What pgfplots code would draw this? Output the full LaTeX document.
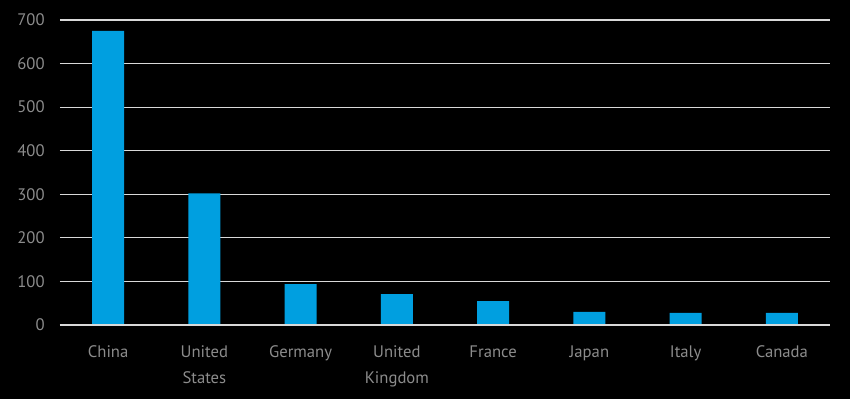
\documentclass[border=0pt]{standalone}
\usepackage{pgfplots}
\pgfplotsset{compat=1.18}
\usepackage{fontspec}
\setmainfont{PT Sans}
\definecolor{barblue}{HTML}{009FE0}
\definecolor{lblgray}{HTML}{8C8C8C}
\definecolor{gridc}{HTML}{D9D9D9}
\begin{document}
\begin{tikzpicture}[x=0.75pt,y=0.75pt]
\fill[black] (-60,-74) rectangle (790,325);
\useasboundingbox (-60,-74) rectangle (790,325);
\begin{axis}[
  at={(0,0)}, anchor=south west,
  scale only axis, width=577.5pt, height=228.75pt,
  ybar, bar width=24pt,
  xmin=-0.5, xmax=7.5, ymin=0, ymax=700,
  ytick={0,100,...,700},
  xtick=data,
  xticklabels={China,United\\States,Germany,United\\Kingdom,France,Japan,Italy,Canada},
  axis line style={draw=none},
  axis x line*=bottom,
  axis y line*=left,
  tick style={draw=none},
  ymajorgrids, grid style={gridc, line width=0.9pt},
  ticklabel style={lblgray, font=\fontsize{12.5}{19.5}\selectfont},
  /pgf/number format/assume math mode=true,
  yticklabel style={anchor=east, xshift=-8pt},
  xticklabel style={align=center, anchor=north, yshift=-7.5pt},
  clip=false,
]
\addplot[fill=barblue, draw=none] coordinates {(0,675) (1,302) (2,94) (3,71) (4,55) (5,30) (6,28) (7,28)};
\draw[gridc, line width=1.6pt] (axis cs:-0.5,0) -- (axis cs:7.5,0);
\end{axis}
\end{tikzpicture}
\end{document}
